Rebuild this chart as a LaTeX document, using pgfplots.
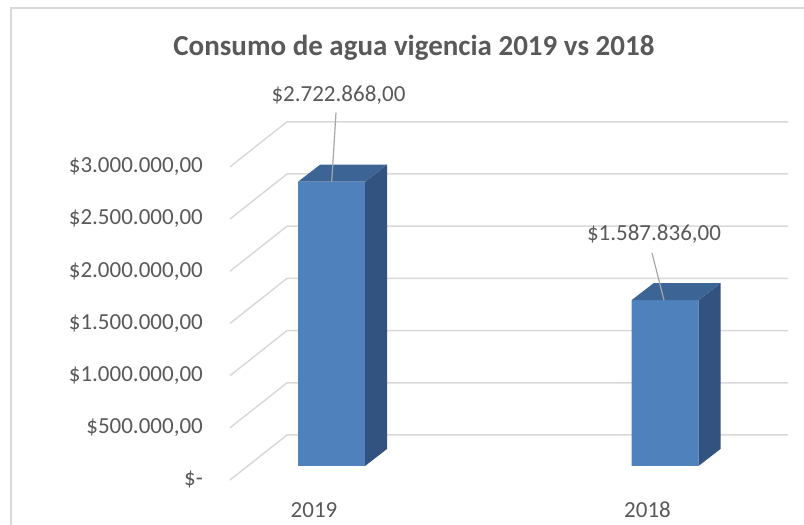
\documentclass[border=0pt]{standalone}
\usepackage{pgfplots}
\pgfplotsset{compat=1.18}
\usepackage{fontspec}
\setmainfont{Carlito}
\definecolor{front}{HTML}{4F81BD}
\definecolor{side}{HTML}{32527F}
\definecolor{topc}{HTML}{3C6494}
\definecolor{gridc}{HTML}{D9D9D9}
\definecolor{txt}{HTML}{595959}
\definecolor{leader}{HTML}{A6A6A6}
\begin{document}
\begin{tikzpicture}
\begin{axis}[
  at={(0,0)}, anchor=south west,
  scale only axis, width=804bp, height=525bp,
  xmin=0, xmax=804, ymin=-565134, ymax=4463600,
  axis line style={draw=none}, tick style={draw=none},
  scaled y ticks=false, scaled x ticks=false,
  /pgf/number format/assume math mode=true,
  xtick={314,647.5}, xticklabels={2019,2018},
  xticklabel style={anchor=base, inner sep=0pt, yshift=8bp, font=\fontsize{23bp}{27bp}\selectfont, text=txt},
  ytick={-134100,365900,865900,1365900,1865900,2365900,2865900},
  yticklabels={{\$-\hspace{11bp}},{\$500.000,00},{\$1.000.000,00},{\$1.500.000,00},{\$2.000.000,00},{\$2.500.000,00},{\$3.000.000,00}},
  yticklabel style={anchor=east, inner sep=0pt, xshift=203bp, font=\fontsize{23bp}{27bp}\selectfont, text=txt},
]
% chart frame
\addplot[gridc, line width=1.5bp] coordinates {(11,-565134) (11,4386971) (810,4386971)};
% gridlines (floor diagonal + back wall)
\addplot[gridc, line width=1.5bp] coordinates {(230,-134100) (287,296935) (788,296935)};
\addplot[gridc, line width=1.5bp] coordinates {(230,365900) (287,796935) (788,796935)};
\addplot[gridc, line width=1.5bp] coordinates {(230,865900) (287,1296935) (788,1296935)};
\addplot[gridc, line width=1.5bp] coordinates {(230,1365900) (287,1796935) (788,1796935)};
\addplot[gridc, line width=1.5bp] coordinates {(230,1865900) (287,2296935) (788,2296935)};
\addplot[gridc, line width=1.5bp] coordinates {(230,2365900) (287,2796935) (788,2796935)};
\addplot[gridc, line width=1.5bp] coordinates {(230,2865900) (287,3296935) (788,3296935)};
% bars: front faces
\addplot[ybar, bar width=67, fill=front, draw=none] coordinates {(331.5,2722868) (665,1587836)};
% side faces
\addplot[fill=side, draw=none] coordinates {(365,0) (387,162835) (387,2885703) (365,2722868)} -- cycle;
\addplot[fill=side, draw=none] coordinates {(698.5,0) (720.5,162835) (720.5,1750671) (698.5,1587836)} -- cycle;
% top faces
\addplot[fill=topc, draw=none] coordinates {(298,2722868) (365,2722868) (387,2885703) (320,2885703)} -- cycle;
\addplot[fill=topc, draw=none] coordinates {(631.5,1587836) (698.5,1587836) (720.5,1750671) (653.5,1750671)} -- cycle;
% data labels
\draw[leader, line width=1.2bp] (axis cs:336,3384099) -- (axis cs:331.7,2722868);
\draw[leader, line width=1.2bp] (axis cs:652,2040229) -- (axis cs:664,1587836);
\node[text=txt, font=\fontsize{23bp}{27bp}\selectfont] at (axis cs:338.5,3553638) {\$2.722.868,00};
\node[text=txt, font=\fontsize{23bp}{27bp}\selectfont] at (axis cs:654,2222221) {\$1.587.836,00};
% title
\node[text=txt, font=\fontsize{29bp}{34bp}\selectfont\bfseries] at (axis cs:413.9,4003830) {Consumo de agua vigencia 2019 vs 2018};
\coordinate (sw) at (rel axis cs:0,0);
\coordinate (ne) at (rel axis cs:1,1);
\end{axis}
\pgfresetboundingbox
\path[use as bounding box] (sw) rectangle (ne);
\end{tikzpicture}
\end{document}
